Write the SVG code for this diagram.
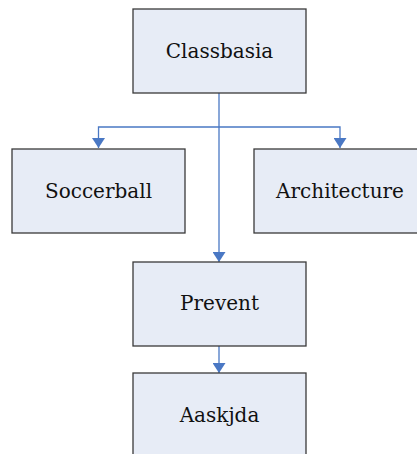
<svg xmlns="http://www.w3.org/2000/svg" width="417" height="454" viewBox="0 0 417 454">
<defs>
<style>
.box{fill:#E7ECF6;stroke:#3a3a3a;stroke-width:1.3}
.lbl{font-family:'DejaVu Serif',serif;font-size:20px;fill:#111;text-anchor:middle}
.con{fill:none;stroke:#4A78C4;stroke-width:1.3}
</style>
<marker id="ah" markerWidth="10" markerHeight="13" refX="10" refY="6.5" orient="auto" markerUnits="userSpaceOnUse" viewBox="0 0 10 13">
<path d="M0,0 L10,6.5 L0,13 Z" fill="#4A78C4"/>
</marker>
</defs>
<rect width="417" height="454" fill="#ffffff"/>
<g id="connectors">
<path class="con" d="M219,93 V262" marker-end="url(#ah)"/>
<path class="con" d="M219,127 H98.5 V148" marker-end="url(#ah)"/>
<path class="con" d="M219,127 H340 V148" marker-end="url(#ah)"/>
<path class="con" d="M219,346 V373" marker-end="url(#ah)"/>
</g>
<g id="classbasia">
<rect class="box" x="133" y="9" width="173" height="84"/>
<text class="lbl" x="219.5" y="58">Classbasia</text>
</g>
<g id="soccerball">
<rect class="box" x="12" y="149" width="173" height="84"/>
<text class="lbl" x="98.5" y="198">Soccerball</text>
</g>
<g id="architecture">
<rect class="box" x="254" y="149" width="173" height="84"/>
<text class="lbl" x="340" y="198">Architecture</text>
</g>
<g id="prevent">
<rect class="box" x="133" y="262" width="173" height="84"/>
<text class="lbl" x="219.5" y="310">Prevent</text>
</g>
<g id="aaskjda">
<rect class="box" x="133" y="373" width="173" height="84"/>
<text class="lbl" x="219.5" y="422">Aaskjda</text>
</g>
</svg>
